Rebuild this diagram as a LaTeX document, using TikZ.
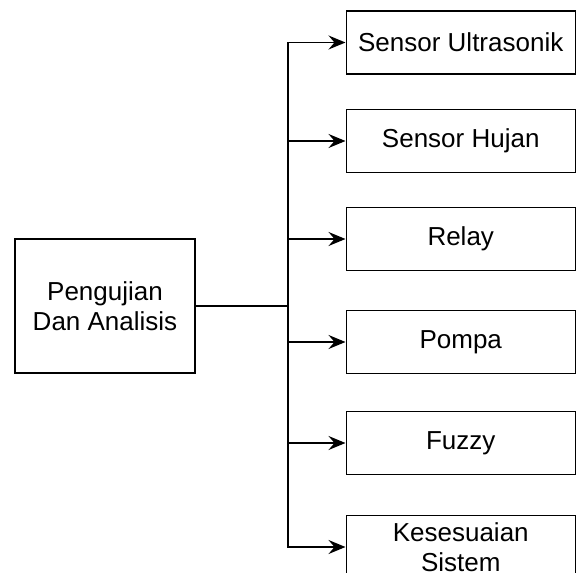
\documentclass[tikz,border=0pt]{standalone}
\usepackage{fontspec}
\setmainfont{Liberation Sans}
\usetikzlibrary{arrows.meta}
\begin{document}
\begin{tikzpicture}[x=1pt,y=-1pt,
  box/.style={draw=black,line width=1.5pt,minimum width=229pt,minimum height=63pt,inner sep=0pt,align=center,font=\fontsize{26}{30}\selectfont,anchor=west},
  link/.style={line width=1.6pt},
  arr/.style={line width=1.6pt,-{Stealth[length=17pt,width=14pt,inset=6pt]}}]
\useasboundingbox (0,0) rectangle (576,573);
\clip (0,0) rectangle (576,573);
\node[draw=black,line width=1.5pt,minimum width=180pt,minimum height=134pt,inner sep=0pt,align=center,font=\fontsize{26}{30}\selectfont] (main) at (105,306) {Pengujian\\Dan Analisis};
\coordinate (j) at (288,306);
\node[box] (b1) at (345.5,42.5) {Sensor Ultrasonik};
\node[box] (b2) at (345.5,141) {Sensor Hujan};
\node[box] (b3) at (345.5,239) {Relay};
\node[box] (b4) at (345.5,342) {Pompa};
\node[box] (b5) at (345.5,443) {Fuzzy};
\node[box] (b6) at (345.5,547) {Kesesuaian\\Sistem};
\draw[link] (main.east) -- (j);
\foreach \b in {b1,b2,b3,b4,b5,b6}{
  \draw[arr] (j) |- (\b.west);
}
\end{tikzpicture}
\end{document}
